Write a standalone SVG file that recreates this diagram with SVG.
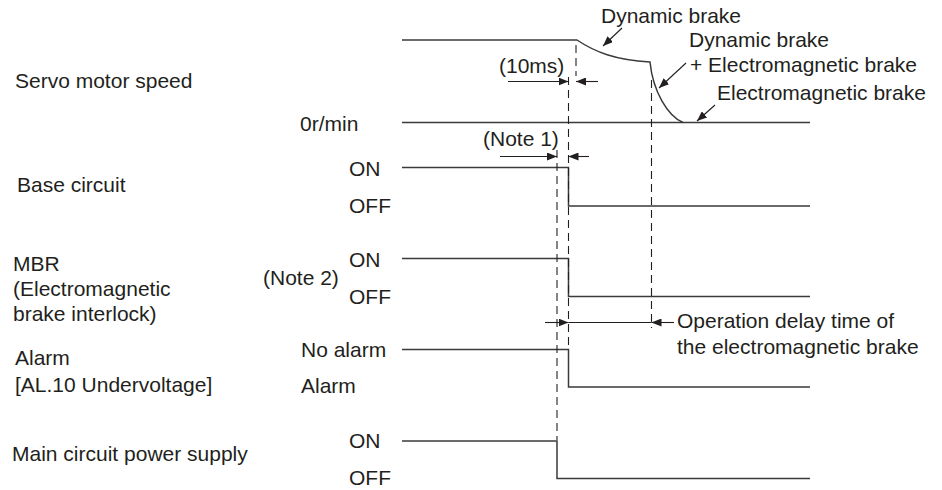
<svg xmlns="http://www.w3.org/2000/svg" width="942" height="490" viewBox="0 0 942 490">
  <defs>
    <marker id="ah" markerUnits="userSpaceOnUse" markerWidth="10" markerHeight="8" refX="10" refY="4" orient="auto">
      <path d="M0,0 L10,4 L0,8 z" fill="#231f20"/>
    </marker>
  </defs>
  <style>
    text { font-family: "Liberation Sans", Arial, sans-serif; font-size: 21px; fill: #231f20; }
    .sig { fill: none; stroke: #3a3a3a; stroke-width: 1.5; }
    .dash { fill: none; stroke: #231f20; stroke-width: 1.1; stroke-dasharray: 8 5; }
    .dim { fill: none; stroke: #231f20; stroke-width: 1.1; }
  </style>
  <rect width="942" height="490" fill="#ffffff"/>

  <g id="speed">
    <text x="15" y="88">Servo motor speed</text>
    <text x="300" y="131">0r/min</text>
    <path class="sig" d="M402,40 L577,40 C595,52 615,60 650,62 C653,92 668,116 683,122.5"/>
    <path class="sig" d="M402,122.5 L810,122.5"/>
    <text x="601" y="23">Dynamic brake</text>
    <text x="689" y="47">Dynamic brake</text>
    <text x="690" y="72">+ Electromagnetic brake</text>
    <text x="717" y="100">Electromagnetic brake</text>
    <text x="499" y="73">(10ms)</text>
  </g>

  <g id="base-circuit">
    <text x="17" y="192">Base circuit</text>
    <text x="349" y="176">ON</text>
    <text x="349" y="213">OFF</text>
    <path class="sig" d="M402,167.5 L568.5,167.5 L568.5,206 L810,206"/>
    <text x="483" y="146">(Note 1)</text>
  </g>

  <g id="mbr">
    <text x="13" y="271">MBR</text>
    <text x="13" y="296">(Electromagnetic</text>
    <text x="13" y="321">brake interlock)</text>
    <text x="263" y="285">(Note 2)</text>
    <text x="349" y="267">ON</text>
    <text x="349" y="304">OFF</text>
    <path class="sig" d="M402,258.5 L568.5,258.5 L568.5,296.5 L810,296.5"/>
  </g>

  <g id="alarm">
    <text x="15" y="365">Alarm</text>
    <text x="15" y="392">[AL.10 Undervoltage]</text>
    <text x="301" y="357">No alarm</text>
    <text x="301" y="393">Alarm</text>
    <path class="sig" d="M402,349.5 L568.5,349.5 L568.5,387 L810,387"/>
    <text x="677" y="328">Operation delay time of</text>
    <text x="677" y="354">the electromagnetic brake</text>
  </g>

  <g id="main-power">
    <text x="12" y="461">Main circuit power supply</text>
    <text x="349" y="448">ON</text>
    <text x="349" y="485">OFF</text>
    <path class="sig" d="M402,441 L557,441 L557,478.5 L810,478.5"/>
  </g>

  <g id="connectors">
    <line class="dash" x1="576" y1="45" x2="576" y2="76"/>
    <line class="dash" x1="568.5" y1="77" x2="568.5" y2="349"/>
    <line class="dash" x1="557" y1="150" x2="557" y2="440"/>
    <line class="dash" x1="651.5" y1="80" x2="651.5" y2="328"/>
    <line class="dim" x1="508" y1="81.5" x2="568.5" y2="81.5" marker-end="url(#ah)"/>
    <line class="dim" x1="598" y1="81.5" x2="576" y2="81.5" marker-end="url(#ah)"/>
    <line class="dim" x1="500" y1="156.5" x2="557" y2="156.5" marker-end="url(#ah)"/>
    <line class="dim" x1="589" y1="156.5" x2="568.5" y2="156.5" marker-end="url(#ah)"/>
    <line class="dim" x1="545" y1="322.5" x2="568.5" y2="322.5" marker-end="url(#ah)"/>
    <line class="dim" x1="568.5" y1="322.5" x2="651.5" y2="322.5"/>
    <line class="dim" x1="674" y1="322.5" x2="651.5" y2="322.5" marker-end="url(#ah)"/>
    <line class="dim" x1="622" y1="28" x2="603" y2="46" marker-end="url(#ah)"/>
    <line class="dim" x1="686" y1="63" x2="659" y2="88" marker-end="url(#ah)"/>
    <line class="dim" x1="715" y1="105" x2="697" y2="121" marker-end="url(#ah)"/>
  </g>
</svg>
